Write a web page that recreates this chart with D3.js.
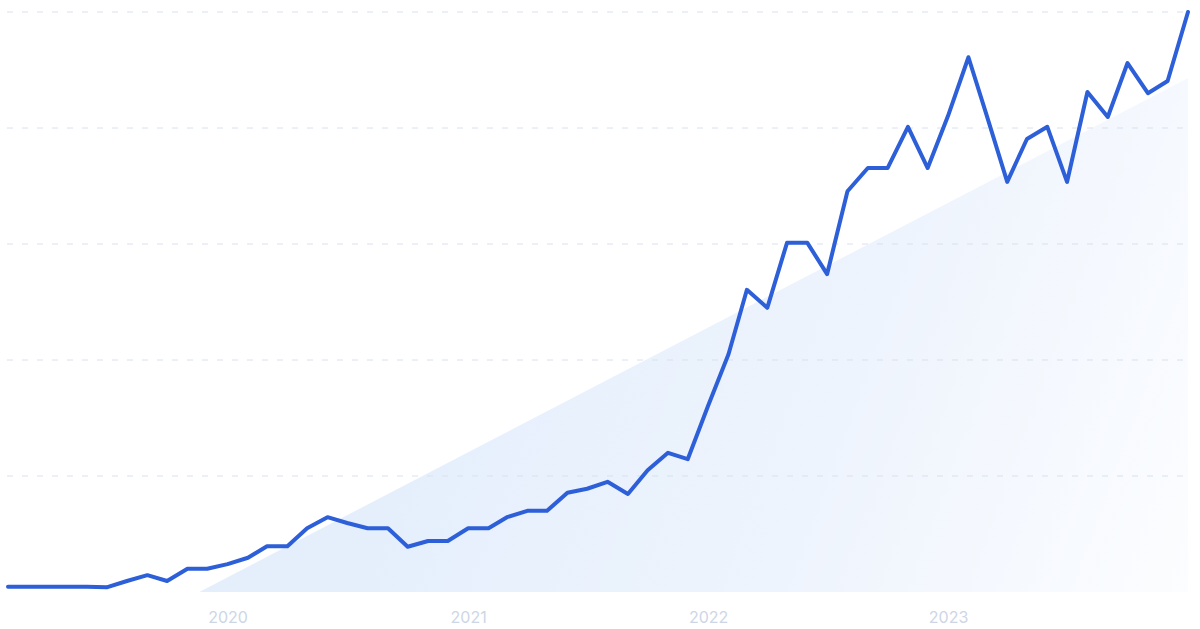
<!DOCTYPE html>
<html>
<head>
<meta charset="utf-8">
<script src="https://cdn.jsdelivr.net/npm/d3@7"></script>
<style>
  html, body { margin: 0; padding: 0; background: #ffffff; }
  svg { display: block; }
</style>
</head>
<body>
<svg id="chart" width="1200" height="629"></svg>
<script>
// Monthly series, Feb 2019 .. Jan 2024 (normalised 0-100)
const startMonth = "2019-02-01";
const endMonth = "2024-01-01";
const values = [
  0.9, 0.9, 0.9, 0.9, 0.9, 0.8, 1.9, 2.9, 1.9, 4.0,
  4.0, 4.8, 5.9, 7.9, 7.9, 11.0, 12.9, 11.9, 11.0, 11.0,
  7.8, 8.8, 8.8, 11.0, 11.0, 12.9, 14.0, 14.0, 17.1, 17.8,
  19.0, 16.9, 21.0, 24.0, 22.9, 32.1, 41.0, 52.1, 49.0, 60.2,
  60.2, 54.8, 69.1, 73.1, 73.1, 80.2, 73.1, 82.1, 92.2, 82.1,
  70.7, 78.1, 80.2, 70.7, 86.2, 81.9, 91.2, 86.0, 88.1, 100
];
const gridValues = [20, 40, 60, 80, 100];
const tickDates = ["2020-01-01", "2021-01-01", "2022-01-01", "2023-01-01"];
const tickLabels = ["2020", "2021", "2022", "2023"];
// decorative background trend wedge (value at start / end dates)
const wedgeDates = ["2019-11-19", "2024-01-01"];
const wedgeValues = [0, 88.6];

const parse = d3.utcParse("%Y-%m-%d");
const months = d3.utcMonth.range(parse(startMonth), d3.utcMonth.offset(parse(endMonth), 1));
const data = months.map((d, i) => ({ date: d, value: values[i] }));

const svg = d3.select("#chart");
const x = d3.scaleUtc().domain([parse(startMonth), parse(endMonth)]).range([8, 1188]);
const y = d3.scaleLinear().domain([0, 100]).range([592, 12]);

const defs = svg.append("defs");
const grad = defs.append("linearGradient")
  .attr("id", "wedgeGrad")
  .attr("gradientUnits", "userSpaceOnUse")
  .attr("x1", 450).attr("y1", 330)
  .attr("x2", 1190).attr("y2", 600);
grad.append("stop").attr("offset", 0).attr("stop-color", "#e5effc");
grad.append("stop").attr("offset", 0.5).attr("stop-color", "#eef4fd");
grad.append("stop").attr("offset", 1).attr("stop-color", "#fcfdff");

// wedge area
const wedge = [
  [x(parse(wedgeDates[0])), y(wedgeValues[0])],
  [x(parse(wedgeDates[1])), y(wedgeValues[1])],
  [x(parse(wedgeDates[1])), y(0)]
];
svg.append("path")
  .attr("d", d3.line()(wedge) + "Z")
  .attr("fill", "url(#wedgeGrad)");

// gridlines
svg.append("g")
  .selectAll("line")
  .data(gridValues)
  .join("line")
  .attr("x1", 7).attr("x2", 1186)
  .attr("y1", d => y(d)).attr("y2", d => y(d))
  .attr("stroke", "#d9e1ee")
  .attr("stroke-width", 1)
  .attr("stroke-dasharray", "6,9");

// x axis labels
const xAxis = d3.axisBottom(x)
  .tickValues(tickDates.map(parse))
  .tickFormat((d, i) => tickLabels[i])
  .tickSize(0)
  .tickPadding(0);
const gx = svg.append("g").attr("transform", "translate(0,611)").call(xAxis);
gx.select(".domain").remove();
gx.selectAll("text")
  .attr("fill", "#cdd6e6")
  .attr("font-family", "Inter, 'Noto Sans', sans-serif")
  .attr("font-size", 16)
  .attr("dy", "0.75em");

// line
svg.append("path")
  .datum(data)
  .attr("fill", "none")
  .attr("stroke", "#2d5fd8")
  .attr("stroke-width", 4)
  .attr("stroke-linejoin", "round")
  .attr("stroke-linecap", "round")
  .attr("d", d3.line().x(d => x(d.date)).y(d => y(d.value)));
</script>
</body>
</html>
